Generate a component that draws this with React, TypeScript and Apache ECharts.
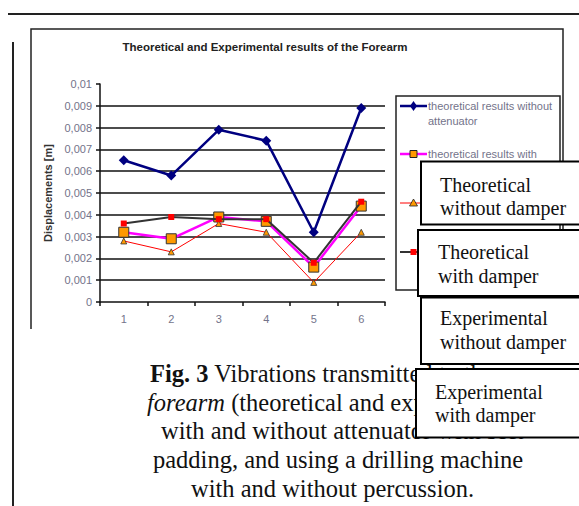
import React, { useEffect, useRef } from "react";
import * as echarts from "echarts";

// ---- data ----
const categories = ["1", "2", "3", "4", "5", "6"];
const theoreticalWithout = [0.0065, 0.0058, 0.0079, 0.0074, 0.0032, 0.0089];
const theoreticalWith = [0.0032, 0.0029, 0.0039, 0.0037, 0.0016, 0.0044];
const experimentalWithout = [0.0028, 0.0023, 0.0036, 0.0032, 0.0009, 0.0032];
const experimentalWith = [0.0036, 0.0039, 0.0038, 0.0038, 0.0018, 0.0046];

const chartTitle = "Theoretical and Experimental results of the Forearm";
const yAxisName = "Displacements [m]";
const legendLabels = [
  ["theoretical results without", "attenuator"],
  ["theoretical results with", "attenuator"],
  ["experimental results without", "attenuator"],
  ["experimental results with", "attenuator"],
];
const overlayLabels = [
  ["Theoretical", "without damper"],
  ["Theoretical", "with damper"],
  ["Experimental", "without damper"],
  ["Experimental", "with damper"],
];
const captionLines = [
  "{b|Fig. 3} Vibrations transmitted to the",
  "{i|forearm} (theoretical and experimental)",
  "with and without attenuator with soft",
  "padding, and using a drilling machine",
  "with and without percussion.",
];

// ---- styles / layout ----
const SANS = "'Liberation Sans', Arial, sans-serif";
const SERIF = "'Liberation Serif', 'Times New Roman', serif";
const LABEL_GRAY = "#73738a";
const legendRowsY = [106, 154, 203, 252];
const captionStartX = [150, 147, 161, 153, 191];
const overlayBoxes = [
  { x: 421, y: 161.5, h: 63, tx: 440, ty: [185, 208] },
  { x: 418, y: 230, h: 66, tx: 438, ty: [252, 276] },
  { x: 421, y: 297.5, h: 66.5, tx: 440, ty: [318, 342] },
  { x: 416, y: 369, h: 68.5, tx: 435, ty: [392, 415] },
];

export default function App() {
  const ref = useRef<HTMLDivElement>(null);

  useEffect(() => {
    if (!ref.current) return;
    const chart = echarts.init(ref.current, undefined, { renderer: "svg" });

    const legendColors = [
      { line: "#000080", lw: 2.5 },
      { line: "#ff00ff", lw: 2.5 },
      { line: "#ff0000", lw: 1 },
      { line: "#333333", lw: 2 },
    ];

    const legendGraphics: any[] = [
      {
        type: "rect",
        z: 100,
        shape: { x: 396, y: 96, width: 164, height: 194 },
        style: { fill: "#fff", stroke: "#222", lineWidth: 1.5 },
      },
    ];
    legendLabels.forEach((lbl, i) => {
      const y = legendRowsY[i];
      legendGraphics.push({
        type: "line",
        z: 101,
        shape: { x1: 400, y1: y, x2: 427, y2: y },
        style: { stroke: legendColors[i].line, lineWidth: legendColors[i].lw },
      });
      const mx = 413.5;
      if (i === 0) {
        legendGraphics.push({
          type: "polygon",
          z: 102,
          shape: { points: [[mx, y - 5], [mx + 3.5, y], [mx, y + 5], [mx - 3.5, y]] },
          style: { fill: "#000080" },
        });
      } else if (i === 1) {
        legendGraphics.push({
          type: "rect",
          z: 102,
          shape: { x: mx - 3.5, y: y - 3.5, width: 7, height: 7 },
          style: { fill: "#ff9900", stroke: "#222", lineWidth: 1 },
        });
      } else if (i === 2) {
        legendGraphics.push({
          type: "polygon",
          z: 102,
          shape: { points: [[mx, y - 4], [mx + 4, y + 3], [mx - 4, y + 3]] },
          style: { fill: "#ff9900", stroke: "#222", lineWidth: 0.8 },
        });
      } else {
        legendGraphics.push({
          type: "rect",
          z: 102,
          shape: { x: mx - 3, y: y - 3, width: 6, height: 6 },
          style: { fill: "#ff0000" },
        });
      }
      lbl.forEach((t, k) => {
        legendGraphics.push({
          type: "text",
          z: 102,
          x: 428,
          y: y + k * 15,
          style: {
            text: t,
            fontFamily: SANS,
            fontSize: 11,
            fill: LABEL_GRAY,
            align: "left",
            verticalAlign: "middle",
          },
        });
      });
    });

    const overlayGraphics: any[] = [];
    overlayBoxes.forEach((b, i) => {
      overlayGraphics.push({
        type: "rect",
        z: 200 + i * 2,
        shape: { x: b.x, y: b.y, width: 220, height: b.h },
        style: { fill: "#fff", stroke: "#000", lineWidth: 2 },
      });
      overlayLabels[i].forEach((t, k) => {
        overlayGraphics.push({
          type: "text",
          z: 201 + i * 2,
          x: b.tx,
          y: b.ty[k],
          style: {
            text: t,
            fontFamily: SERIF,
            fontSize: 20,
            fill: "#111",
            align: "left",
            verticalAlign: "middle",
          },
        });
      });
    });

    const CAP_SIZE = 24.5;
    const captionGraphics = captionLines.map((t, i) => ({
      type: "text",
      z: 50,
      x: captionStartX[i],
      y: 373.4 + i * 28.7,
      style: {
        text: t,
        fontFamily: SERIF,
        fontSize: CAP_SIZE,
        fill: "#111",
        align: "left",
        verticalAlign: "middle",
        rich: {
          b: { fontFamily: SERIF, fontSize: CAP_SIZE, fontWeight: "bold", fill: "#111" },
          i: { fontFamily: SERIF, fontSize: CAP_SIZE, fontStyle: "italic", fill: "#111" },
        },
      },
    }));

    const frameGraphics = [
      {
        type: "line",
        z: 10,
        shape: { x1: 8, y1: 14, x2: 579, y2: 14 },
        style: { stroke: "#222", lineWidth: 2 },
      },
      {
        type: "line",
        z: 10,
        shape: { x1: 13, y1: 42, x2: 13, y2: 506 },
        style: { stroke: "#222", lineWidth: 2 },
      },
      {
        type: "polyline",
        z: 10,
        shape: { points: [[31, 329], [31, 29], [563, 29], [563, 329]] },
        style: { stroke: "#222", lineWidth: 1.5, fill: "none" },
      },
      {
        type: "text",
        z: 10,
        x: 265,
        y: 47,
        style: {
          text: chartTitle,
          fontFamily: SANS,
          fontSize: 11.5,
          fontWeight: "bold",
          fill: "#222",
          align: "center",
          verticalAlign: "middle",
        },
      },
    ];

    chart.setOption({
      animation: false,
      backgroundColor: "#fff",
      grid: { left: 100, top: 84, right: 194, bottom: 204, containLabel: false },
      xAxis: {
        type: "category",
        data: categories,
        boundaryGap: true,
        axisLine: { show: true, lineStyle: { color: "#111", width: 1.5 } },
        axisTick: { show: true, length: 4, lineStyle: { color: "#111", width: 1.5 } },
        axisLabel: { color: LABEL_GRAY, fontFamily: SANS, fontSize: 11, margin: 11 },
        splitLine: { show: false },
      },
      yAxis: {
        type: "value",
        min: 0,
        max: 0.01,
        interval: 0.001,
        name: yAxisName,
        nameLocation: "middle",
        nameGap: 47,
        nameRotate: 90,
        nameTextStyle: { fontFamily: SANS, fontSize: 11, fontWeight: "bold", color: "#333" },
        axisLine: { show: true, lineStyle: { color: "#111", width: 1.5 } },
        axisTick: { show: true, length: 4, lineStyle: { color: "#111", width: 1.5 } },
        axisLabel: {
          color: LABEL_GRAY,
          fontFamily: SANS,
          fontSize: 11,
          margin: 8,
          formatter: (v: number) =>
            v === 0 ? "0" : String(parseFloat(v.toFixed(3))).replace(".", ","),
        },
        splitLine: {
          show: true,
          showMinLine: false,
          showMaxLine: false,
          lineStyle: { color: "#111", width: 1.5 },
        },
      },
      series: [
        {
          name: legendLabels[0].join(" "),
          type: "line",
          data: theoreticalWithout,
          lineStyle: { color: "#000080", width: 2.5 },
          itemStyle: { color: "#000080" },
          symbol: "diamond",
          symbolSize: 10,
          z: 3,
        },
        {
          name: legendLabels[1].join(" "),
          type: "line",
          data: theoreticalWith,
          lineStyle: { color: "#ff00ff", width: 2.5 },
          itemStyle: { color: "#ff9900", borderColor: "#333", borderWidth: 1 },
          symbol: "rect",
          symbolSize: 10,
          z: 4,
        },
        {
          name: legendLabels[2].join(" "),
          type: "line",
          data: experimentalWithout,
          lineStyle: { color: "#ff0000", width: 1 },
          itemStyle: { color: "#ff9900", borderColor: "#333", borderWidth: 0.8 },
          symbol: "triangle",
          symbolSize: 6,
          z: 5,
        },
        {
          name: legendLabels[3].join(" "),
          type: "line",
          data: experimentalWith,
          lineStyle: { color: "#333333", width: 2 },
          itemStyle: { color: "#ff0000" },
          symbol: "rect",
          symbolSize: 6,
          z: 6,
        },
      ],
      graphic: [...frameGraphics, ...legendGraphics, ...captionGraphics, ...overlayGraphics],
    });

    return () => chart.dispose();
  }, []);

  return (
    <div
      ref={ref}
      style={{ position: "absolute", left: 0, top: 0, width: 579, height: 506 }}
    />
  );
}
